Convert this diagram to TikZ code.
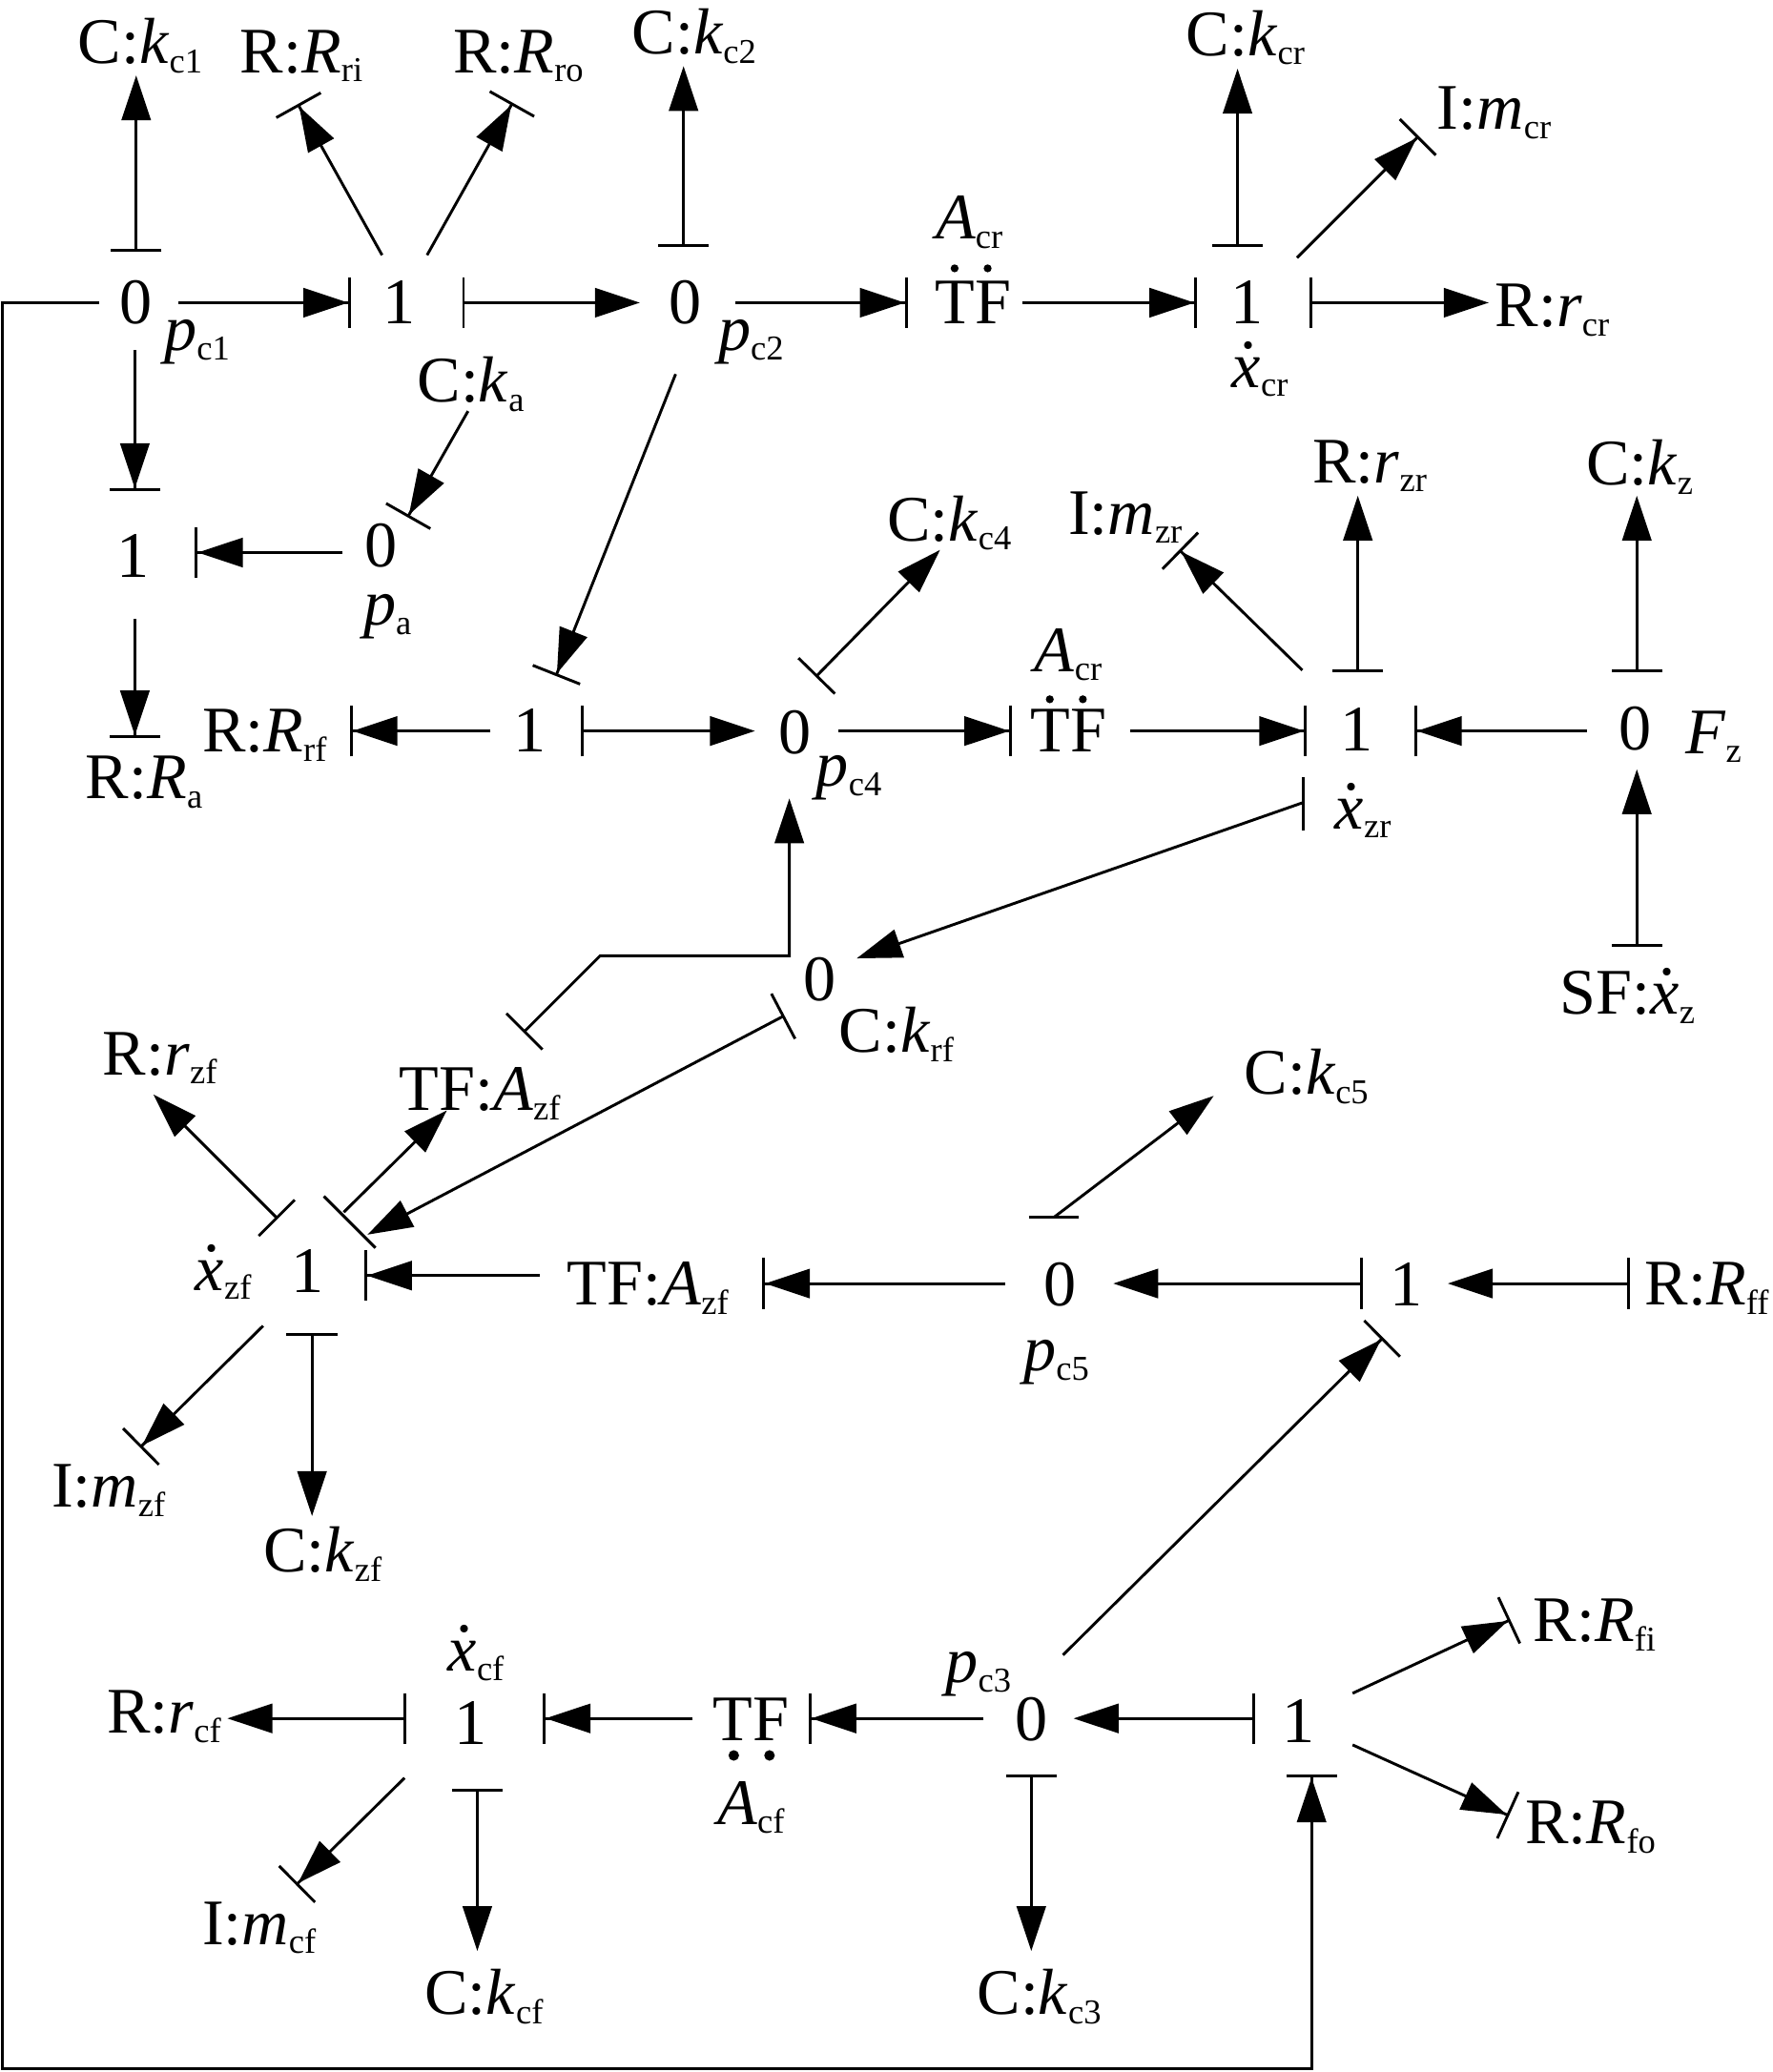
\documentclass[tikz,border=0pt]{standalone}
\usepackage{fontspec}
\setmainfont{Liberation Serif}
\usetikzlibrary{arrows.meta}
\newcommand{\subs}[1]{\raisebox{-4pt}{\fontsize{15}{15}\selectfont #1}}
\newcommand{\kv}[2]{\textit{#1}\subs{#2}}
\newcommand{\xd}{\makebox[0pt][l]{\hspace{0.13em}\raisebox{0.6em}{.}}\textit{x}}
\tikzset{lbl/.style={anchor=base, inner sep=0pt, font=\fontsize{28}{30}\selectfont}}
\tikzset{bond/.style={line width=1.2pt, -{Triangle[length=0.68cm, width=0.44cm]}}}
\tikzset{headbar/.style={line width=1.2pt, shorten >=-0.03cm, -{Triangle[length=0.68cm, width=0.44cm]Bar[width=0.77cm]}}}
\tikzset{tailbar/.style={line width=1.2pt, shorten <=-0.03cm, {Bar[width=0.77cm]}-{Triangle[length=0.68cm, width=0.44cm]}}}
\tikzset{stroke/.style={line width=1.2pt}}
\begin{document}
\begin{tikzpicture}[x=0.02cm, y=-0.02cm]
    \useasboundingbox (0, 0) rectangle (1341, 1567.5);
    \node[lbl] (c1) at (106, 48) {C:\kv{k}{c1}};
    \node[lbl] (rri) at (228, 55) {R:\kv{R}{ri}};
    \node[lbl] (rro) at (392, 55) {R:\kv{R}{ro}};
    \node[lbl] (c2) at (525, 41) {C:\kv{k}{c2}};
    \node[lbl] (ccr) at (942, 42) {C:\kv{k}{cr}};
    \node[lbl] (mcr) at (1130, 98) {I:\kv{m}{cr}};
    \node[lbl] (acr) at (733, 181) {\kv{A}{cr}};
    \node[lbl] (zc1) at (103, 245) {0};
    \node[lbl] (onea) at (302, 245) {1};
    \node[lbl] (zc2) at (518, 245) {0};
    \node[lbl] (tfa) at (736, 245) {TF};
    \node[lbl] (onecr) at (943, 245) {1};
    \node[lbl] (rcr) at (1174, 247) {R:\kv{r}{cr}};
    \node[lbl] (pc1) at (149, 265) {\kv{p}{c1}};
    \node[lbl] (pc2) at (568, 265) {\kv{p}{c2}};
    \node[lbl] (xcr) at (953, 293) {\xd\subs{cr}};
    \node[lbl] (ka) at (356, 304) {C:\kv{k}{a}};
    \node[lbl] (za) at (288, 429) {0};
    \node[lbl] (oneb) at (101, 437) {1};
    \node[lbl] (pa) at (293, 473) {\kv{p}{a}};
    \node[lbl] (ra) at (109, 604) {R:\kv{R}{a}};
    \node[lbl] (rrf) at (200, 569) {R:\kv{R}{rf}};
    \node[lbl] (onec) at (401, 569) {1};
    \node[lbl] (zc4) at (601, 570) {0};
    \node[lbl] (pc4) at (642, 595) {\kv{p}{c4}};
    \node[lbl] (acrb) at (808, 508) {\kv{A}{cr}};
    \node[lbl] (tfb) at (808, 569) {TF};
    \node[lbl] (oned) at (1026, 568) {1};
    \node[lbl] (zf) at (1237, 567) {0};
    \node[lbl] (fz) at (1296, 570) {\kv{F}{z}};
    \node[lbl] (kc4) at (718, 409) {C:\kv{k}{c4}};
    \node[lbl] (mzr) at (851, 404) {I:\kv{m}{zr}};
    \node[lbl] (rzr) at (1036, 365) {R:\kv{r}{zr}};
    \node[lbl] (kz) at (1240, 367) {C:\kv{k}{z}};
    \node[lbl] (xzr) at (1031, 627) {\xd\subs{zr}};
    \node[lbl] (sfz) at (1231, 767) {SF:\xd\subs{z}};
    \node[lbl] (zr) at (620, 757) {0};
    \node[lbl] (krf) at (678, 796) {C:\kv{k}{rf}};
    \node[lbl] (rzf) at (121, 813) {R:\kv{r}{zf}};
    \node[lbl] (tfzf) at (363, 840) {TF:\kv{A}{zf}};
    \node[lbl] (kc5) at (988, 828) {C:\kv{k}{c5}};
    \node[lbl] (xzf) at (169, 976) {\xd\subs{zf}};
    \node[lbl] (onee) at (233, 978) {1};
    \node[lbl] (tfc) at (490, 987) {TF:\kv{A}{zf}};
    \node[lbl] (zc5) at (802, 988) {0};
    \node[lbl] (onef) at (1064, 988) {1};
    \node[lbl] (rff) at (1291, 987) {R:\kv{R}{ff}};
    \node[lbl] (pc5) at (799, 1037) {\kv{p}{c5}};
    \node[lbl] (mzf) at (82, 1140) {I:\kv{m}{zf}};
    \node[lbl] (kzf) at (244, 1189) {C:\kv{k}{zf}};
    \node[lbl] (xcf) at (360, 1264) {\xd\subs{cf}};
    \node[lbl] (pc3) at (740, 1273) {\kv{p}{c3}};
    \node[lbl] (rcf) at (124, 1311) {R:\kv{r}{cf}};
    \node[lbl] (oneg) at (356, 1320) {1};
    \node[lbl] (tfd) at (568, 1317) {TF};
    \node[lbl] (zc3) at (780, 1317) {0};
    \node[lbl] (oneh) at (982, 1318) {1};
    \node[lbl] (acf) at (568, 1380) {\kv{A}{cf}};
    \node[lbl] (rfi) at (1206, 1242) {R:\kv{R}{fi}};
    \node[lbl] (rfo) at (1203, 1395) {R:\kv{R}{fo}};
    \node[lbl] (mcf) at (196, 1471) {I:\kv{m}{cf}};
    \node[lbl] (kcf) at (366, 1524) {C:\kv{k}{cf}};
    \node[lbl] (kc3) at (786, 1524) {C:\kv{k}{c3}};
    \fill ([shift={(-14, -42)}]tfa.base) circle (3);
    \fill ([shift={(11, -42)}]tfa.base) circle (3);
    \fill ([shift={(-14, -40)}]tfb.base) circle (3);
    \fill ([shift={(11, -40)}]tfb.base) circle (3);
    \fill ([shift={(-13, 11)}]tfd.base) circle (4);
    \fill ([shift={(14, 11)}]tfd.base) circle (4);
    \draw[tailbar] ([shift={(0, -56)}]zc1.base) -- ([shift={(-3, 9)}]c1.base);
    \draw[headbar] ([shift={(-13, -52)}]onea.base) -- ([shift={(-2, 25)}]rri.base);
    \draw[headbar] ([shift={(21, -52)}]onea.base) -- ([shift={(-5, 24)}]rro.base);
    \draw[tailbar] ([shift={(-1, -60)}]zc2.base) -- ([shift={(-8, 9)}]c2.base);
    \draw[headbar] ([shift={(32, -16)}]zc1.base) -- ([shift={(-38, -16)}]onea.base);
    \draw[tailbar] ([shift={(49, -16)}]onea.base) -- ([shift={(-34, -16)}]zc2.base);
    \draw[headbar] ([shift={(38, -16)}]zc2.base) -- ([shift={(-51, -16)}]tfa.base);
    \draw[headbar] ([shift={(37, -16)}]tfa.base) -- ([shift={(-39, -16)}]onecr.base);
    \draw[tailbar] ([shift={(49, -16)}]onecr.base) -- ([shift={(-48, -18)}]rcr.base);
    \draw[tailbar] ([shift={(-7, -60)}]onecr.base) -- ([shift={(-6, 10)}]ccr.base);
    \draw[headbar] ([shift={(38, -50)}]onecr.base) -- ([shift={(-58, 6)}]mcr.base);
    \draw[headbar] ([shift={(-1, 20)}]zc1.base) -- ([shift={(1, -67)}]oneb.base);
    \draw[headbar] ([shift={(-2, 7)}]ka.base) -- ([shift={(21, -39)}]za.base);
    \draw[headbar] ([shift={(-29, -11)}]za.base) -- ([shift={(48, -19)}]oneb.base);
    \draw[headbar] ([shift={(-7, 38)}]zc2.base) -- ([shift={(20, -59)}]onec.base);
    \draw[headbar] ([shift={(1, 31)}]oneb.base) -- ([shift={(-7, -47)}]ra.base);
    \draw[headbar] ([shift={(-30, -16)}]onec.base) -- ([shift={(66, -16)}]rrf.base);
    \draw[tailbar] ([shift={(40, -16)}]onec.base) -- ([shift={(-30, -17)}]zc4.base);
    \draw[headbar] ([shift={(33, -17)}]zc4.base) -- ([shift={(-44, -16)}]tfb.base);
    \draw[tailbar] ([shift={(17, -59)}]zc4.base) -- ([shift={(-7, 7)}]kc4.base);
    \draw[headbar] ([shift={(47, -16)}]tfb.base) -- ([shift={(-39, -15)}]oned.base);
    \draw[headbar] ([shift={(-41, -61)}]oned.base) -- ([shift={(42, 13)}]mzr.base);
    \draw[tailbar] ([shift={(1, -61)}]oned.base) -- ([shift={(-9, 10)}]rzr.base);
    \draw[headbar] ([shift={(-37, -14)}]zf.base) -- ([shift={(45, -15)}]oned.base);
    \draw[tailbar] ([shift={(1, -60)}]zf.base) -- ([shift={(-2, 8)}]kz.base);
    \draw[tailbar] ([shift={(7, -52)}]sfz.base) -- ([shift={(1, 15)}]zf.base);
    \draw[bond] ([shift={(-40, 39)}]oned.base) -- ([shift={(28, -32)}]zr.base);
    \draw[stroke] ([shift={(-40, 20)}]oned.base) -- ([shift={(-40, 60)}]oned.base);
    \draw[tailbar] ([shift={(34, -60)}]tfzf.base) -- ++(57, -57) -- ++(143, 0) -- ([shift={(-4, 34)}]zc4.base);
    \draw[tailbar] ([shift={(-28, 12)}]zr.base) -- ([shift={(45, -44)}]onee.base);
    \draw[bond] ([shift={(27, -61)}]onee.base) -- ([shift={(-25, 0)}]tfzf.base);
    \draw[stroke] ([shift={(12, -73)}]onee.base) -- ([shift={(51, -34)}]onee.base);
    \draw[headbar] ([shift={(-82, -22)}]tfc.base) -- ([shift={(44, -13)}]onee.base);
    \draw[headbar] ([shift={(-42, -17)}]zc5.base) -- ([shift={(88, -16)}]tfc.base);
    \draw[tailbar] ([shift={(-35, -17)}]onef.base) -- ([shift={(40, -17)}]zc5.base);
    \draw[tailbar] ([shift={(-60, -16)}]rff.base) -- ([shift={(31, -17)}]onef.base);
    \draw[bond] ([shift={(-5, -67)}]zc5.base) -- ([shift={(-70, 1)}]kc5.base);
    \draw[stroke] ([shift={(-24, -67)}]zc5.base) -- ([shift={(14, -67)}]zc5.base);
    \draw[headbar] ([shift={(24, -65)}]zc3.base) -- ([shift={(-19, 25)}]onef.base);
    \draw[tailbar] ([shift={(-24, -57)}]onee.base) -- ([shift={(-5, 15)}]rzf.base);
    \draw[headbar] ([shift={(-34, 25)}]onee.base) -- ([shift={(25, -46)}]mzf.base);
    \draw[tailbar] ([shift={(3, 32)}]onee.base) -- ([shift={(-8, -42)}]kzf.base);
    \draw[tailbar] ([shift={(-50, -20)}]oneg.base) -- ([shift={(48, -11)}]rcf.base);
    \draw[headbar] ([shift={(-44, -17)}]tfd.base) -- ([shift={(56, -20)}]oneg.base);
    \draw[headbar] ([shift={(-36, -17)}]zc3.base) -- ([shift={(45, -17)}]tfd.base);
    \draw[tailbar] ([shift={(-34, -18)}]oneh.base) -- ([shift={(32, -17)}]zc3.base);
    \draw[headbar] ([shift={(-50, 25)}]oneg.base) -- ([shift={(29, -46)}]mcf.base);
    \draw[tailbar] ([shift={(5, 35)}]oneg.base) -- ([shift={(-5, -48)}]kcf.base);
    \draw[tailbar] ([shift={(0, 27)}]zc3.base) -- ([shift={(-6, -48)}]kc3.base);
    \draw[headbar] ([shift={(41, -37)}]oneh.base) -- ([shift={(-65, -16)}]rfi.base);
    \draw[headbar] ([shift={(41, 2)}]oneh.base) -- ([shift={(-63, -22)}]rfo.base);
    \draw[headbar] ([shift={(-28, -16)}]zc1.base) -- ++(-73, 0) -- ++(0, 1336) -- ++(990, 0) -- ([shift={(10, 26)}]oneh.base);
\end{tikzpicture}
\end{document}
